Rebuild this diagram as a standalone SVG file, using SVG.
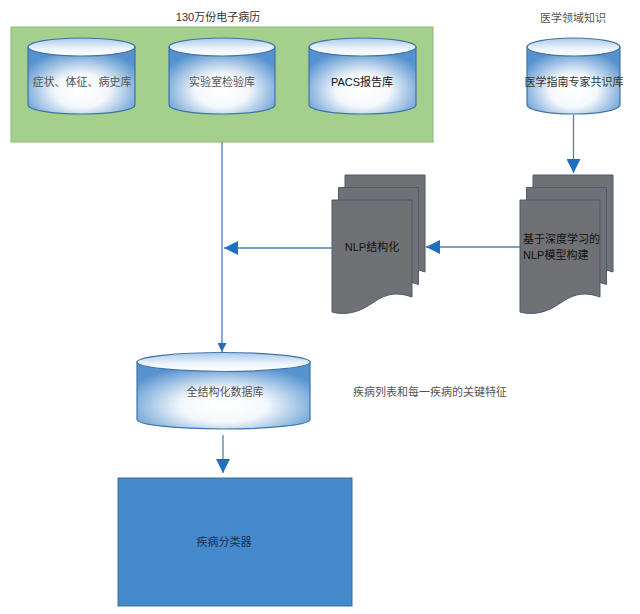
<svg xmlns="http://www.w3.org/2000/svg" xmlns:xlink="http://www.w3.org/1999/xlink" width="640" height="614" viewBox="0 0 640 614">
<style>
text{font-family:"Liberation Sans","Noto Sans CJK SC",sans-serif;font-size:11px;fill:#333;text-anchor:middle;dominant-baseline:central}
.cyl{fill:url(#gb);stroke:#3f74a8;stroke-width:1.2}
.cylt{fill:url(#gt);stroke:#3f74a8;stroke-width:1.2}
.doc{fill:#6f7174;stroke:#4a5b72;stroke-width:1}
.ln{fill:none;stroke:#4a80b5;stroke-width:1.3}
.dark{fill:#111}
.gray{fill:#555}
</style>
<defs>
<radialGradient id="gb" cx="50%" cy="65%" r="62%">
<stop offset="0" stop-color="#ffffff"/>
<stop offset="0.4" stop-color="#f4f8fc"/>
<stop offset="1" stop-color="#5592cf"/>
</radialGradient>
<linearGradient id="gt" x1="0" y1="0" x2="0" y2="1">
<stop offset="0" stop-color="#a9c9e9"/>
<stop offset="0.6" stop-color="#eef4fb"/>
<stop offset="1" stop-color="#ffffff"/>
</linearGradient>
<path id="doc" d="M0,0 H80 V97 C66,92 55,93 42,102 C28,112 14,116 0,112 Z"/>
<marker id="big" markerUnits="userSpaceOnUse" markerWidth="14" markerHeight="14" refX="14" refY="7" orient="auto"><path d="M0,0 L14,7 L0,14 Z" fill="#1f6fc0"/></marker>
<marker id="small" markerUnits="userSpaceOnUse" markerWidth="9" markerHeight="9" refX="9" refY="4.5" orient="auto"><path d="M0,0 L9,4.5 L0,9 Z" fill="#2a6cb0"/></marker>
</defs>
<rect width="640" height="614" fill="#fff"/>

<g id="emr">
<rect x="11" y="27" width="422" height="115" fill="#a5cf8c" stroke="#8db87a"/>
<text x="218" y="17">130万份电子病历</text>
</g>

<g id="db-symptom">
<path class="cyl" d="M28,47 V105 A53.5,9 0 0 0 135,105 V47 Z"/>
<ellipse class="cylt" cx="81.5" cy="47" rx="53.5" ry="9"/>
<text x="82" y="82" class="gray">症状、体征、病史库</text>
</g>
<g id="db-lab">
<path class="cyl" d="M169,47 V105 A53,9 0 0 0 275,105 V47 Z"/>
<ellipse class="cylt" cx="222" cy="47" rx="53" ry="9"/>
<text x="222" y="82" class="gray">实验室检验库</text>
</g>
<g id="db-pacs">
<path class="cyl" d="M309,47 V105 A53.5,9 0 0 0 416,105 V47 Z"/>
<ellipse class="cylt" cx="362.5" cy="47" rx="53.5" ry="9"/>
<text x="362" y="82" class="dark">PACS报告库</text>
</g>

<g id="domain">
<text x="573" y="18" class="gray">医学领域知识</text>
<path class="cyl" d="M527,47 V105 A46.5,9 0 0 0 620,105 V47 Z"/>
<ellipse class="cylt" cx="573.5" cy="47" rx="46.5" ry="9"/>
<text x="574" y="82">医学指南专家共识库</text>
</g>

<g id="nlp-build">
<use xlink:href="#doc" class="doc" x="533" y="175"/>
<use xlink:href="#doc" class="doc" x="526.5" y="187.5"/>
<use xlink:href="#doc" class="doc" x="520" y="200"/>
<text x="523" y="239" class="dark" style="text-anchor:start">基于深度学习的</text>
<text x="523" y="255" class="dark" style="text-anchor:start">NLP模型构建</text>
</g>

<g id="nlp-struct">
<use xlink:href="#doc" class="doc" x="345" y="175"/>
<use xlink:href="#doc" class="doc" x="338.5" y="187.5"/>
<use xlink:href="#doc" class="doc" x="332" y="200"/>
<text x="372" y="247" class="dark">NLP结构化</text>
</g>

<g id="db-full">
<path class="cyl" d="M137,362 V419.5 A86.5,9.5 0 0 0 310,419.5 V362 Z"/>
<ellipse class="cylt" cx="223.5" cy="362" rx="86.5" ry="9.5"/>
<text x="225" y="392" class="gray">全结构化数据库</text>
</g>

<g id="features">
<text x="430" y="392" class="gray">疾病列表和每一疾病的关键特征</text>
</g>

<g id="classifier">
<rect x="118" y="478" width="234" height="128" fill="#4389cc" stroke="#3a6ea3"/>
<text x="224" y="542" style="fill:#1d2e4c">疾病分类器</text>
</g>

<g id="connectors">
<path class="ln" d="M222,142 V352" marker-end="url(#small)"/>
<path class="ln" d="M332,248 H224" marker-end="url(#big)"/>
<path class="ln" d="M520,247 H426" marker-end="url(#big)"/>
<path class="ln" d="M573.5,115 V173" marker-end="url(#big)"/>
<path class="ln" d="M223,435 V473" marker-end="url(#big)"/>
</g>
</svg>
